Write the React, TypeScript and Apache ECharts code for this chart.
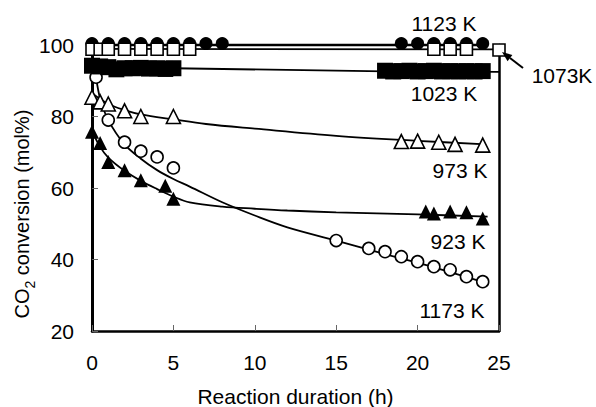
import React, { useEffect, useRef } from "react";
import * as echarts from "echarts";

// ---- data ----
const xTicks = [0, 5, 10, 15, 20, 25];
const yTicks = [20, 40, 60, 80, 100];

const h1123 = [0, 1, 2, 3, 4, 5, 6, 7, 8, 19, 20, 21, 22, 23, 24];
const v1123 = [100.4, 100.4, 100.4, 100.4, 100.4, 100.4, 100.4, 100.4, 100.4, 100.4, 100.4, 100.4, 100.4, 100.4, 100.4];
const fitH1123 = [0, 24];
const fitV1123 = [100, 100];

const h1073 = [0, 0.5, 1, 2, 3, 4, 5, 6, 21, 22, 23, 25];
const v1073 = [98.8, 98.8, 98.8, 98.8, 98.8, 98.8, 98.8, 98.8, 98.8, 98.8, 98.8, 98.6];
const fitH1073 = [0, 25];
const fitV1073 = [98.9, 98.8];

const h1023 = [0, 0.5, 1, 1.5, 2, 2.5, 3, 3.5, 4, 4.5, 5, 18, 18.5, 19, 19.5, 20, 20.5, 21, 21.5, 22, 22.5, 23, 23.5, 24];
const v1023 = [94.2, 94, 93.8, 93.2, 93.5, 93.5, 93.6, 93.4, 93.5, 93.3, 93.5, 92.8, 92.6, 92.7, 92.8, 92.6, 92.7, 92.8, 92.6, 92.7, 92.6, 92.7, 92.6, 92.7];
const fitH1023 = [0, 5, 18, 25];
const fitV1023 = [93.8, 93.5, 92.6, 92.5];

const h973 = [0, 0.5, 1, 2, 3, 5, 19, 20, 21.3, 22.3, 24];
const v973 = [85.4, 84.1, 83.5, 81.6, 80, 80, 73, 73.1, 72.8, 72.2, 72];
const fitH973 = [0, 1, 2, 3, 5, 7, 10, 15, 20, 24.2];
const fitV973 = [86.5, 83.5, 81.8, 80.6, 79.2, 77.9, 76.6, 74.6, 73.2, 72.2];

const h923 = [0, 0.5, 1, 2, 3, 4.5, 5, 20.5, 21, 22, 23, 24];
const v923 = [75.7, 72.6, 67.3, 65, 62.2, 60.6, 57, 53.4, 52.9, 53.4, 53.2, 51.5];
const fitH923 = [0, 0.5, 1, 2, 3, 4, 5, 6, 8, 10, 12, 15, 20, 24.3];
const fitV923 = [76, 71.5, 68.5, 64.8, 62, 59.7, 57.6, 56, 54.8, 54.2, 53.7, 53.2, 52.6, 52];

const h1173 = [0.25, 1, 2, 3, 4, 5, 15, 17, 18, 19, 20, 21, 22, 23, 24];
const v1173 = [91, 79, 72.8, 70.3, 68.7, 65.6, 45.3, 43.1, 42.2, 40.8, 39.4, 38, 37.1, 35.2, 33.8];
const fitH1173 = [0.25, 0.5, 1, 2, 3, 4, 5, 6, 8, 10, 12, 15, 18, 21, 24.3];
const fitV1173 = [91, 85, 79, 72.2, 68.2, 65, 62.5, 60.4, 56, 52.3, 49, 45.3, 41.5, 37.8, 33.3];

const seriesLabels = ["1123 K", "1073K", "1023 K", "973 K", "923 K", "1173 K"];

const zip = (a: number[], b: number[]) => a.map((x, i) => [x, b[i]]);

const FONT = "'Liberation Sans', Arial, Helvetica, sans-serif";

export default function App() {
  const ref = useRef<HTMLDivElement>(null);
  useEffect(() => {
    if (!ref.current) return;
    const chart = echarts.init(ref.current, null, { renderer: "svg" });

    const fit = (h: number[], v: number[], smooth: boolean, width = 1.8) => ({
      type: "line",
      data: zip(h, v),
      showSymbol: false,
      symbol: "none",
      smooth: smooth ? 0.35 : false,
      clip: false,
      silent: true,
      lineStyle: { color: "#000", width },
      z: 2,
    });
    const pts = (h: number[], v: number[], symbol: string, size: number, filled: boolean, z: number) => ({
      type: "scatter",
      data: zip(h, v),
      symbol,
      symbolSize: size,
      clip: false,
      itemStyle: {
        color: filled ? "#000" : "#fff",
        borderColor: "#000",
        borderWidth: filled ? 0 : 1.6,
        opacity: 1,
      },
      z,
    });

    const label = (text: string, x: number, y: number) => ({
      type: "text",
      x,
      y,
      style: { text, font: `21px ${FONT}`, fill: "#000", align: "center", verticalAlign: "middle" },
      z: 10,
    });

    chart.setOption({
      animation: false,
      backgroundColor: "#fff",
      grid: { left: 92, right: 97, top: 45, bottom: 76, containLabel: false, outerBoundsMode: "none" },
      xAxis: {
        type: "value",
        min: xTicks[0],
        max: xTicks[xTicks.length - 1],
        interval: 5,
        name: "Reaction duration (h)",
        nameLocation: "middle",
        nameGap: 55,
        nameTextStyle: { fontSize: 21, color: "#000", fontFamily: FONT },
        axisLine: { show: true, onZero: false, lineStyle: { color: "#000", width: 2.5 } },
        axisTick: { show: true, inside: true, length: 6, lineStyle: { color: "#666", width: 1 } },
        axisLabel: { fontSize: 21, color: "#000", fontFamily: FONT, margin: 21 },
        splitLine: { show: false },
      },
      yAxis: [
        {
          type: "value",
          min: yTicks[0],
          max: yTicks[yTicks.length - 1],
          interval: 20,
          axisLine: { show: true, onZero: false, lineStyle: { color: "#000", width: 3 } },
          axisTick: { show: true, inside: true, length: 6, lineStyle: { color: "#666", width: 1 } },
          axisLabel: { fontSize: 21, color: "#000", fontFamily: FONT, margin: 18 },
          splitLine: { show: false },
        },
        {
          type: "value",
          position: "right",
          min: yTicks[0],
          max: yTicks[yTicks.length - 1],
          interval: 20,
          axisLine: { show: true, onZero: false, lineStyle: { color: "#000", width: 2.5 } },
          axisTick: { show: false },
          axisLabel: { show: false },
          splitLine: { show: false },
        },
      ],
      series: [
        fit(fitH1123, fitV1123, false, 2.5),
        fit(fitH1073, fitV1073, false, 1.8),
        fit(fitH1023, fitV1023, false, 1.8),
        fit(fitH973, fitV973, true, 1.8),
        fit(fitH923, fitV923, true, 1.8),
        fit(fitH1173, fitV1173, true, 1.8),
        pts(h1173, v1173, "circle", 12, false, 3),
        pts(h1123, v1123, "circle", 13, true, 3),
        pts(h1073, v1073, "rect", 12, false, 4),
        pts(h1023, v1023, "rect", 16, true, 5),
        pts(h973, v973, "triangle", 14, false, 5),
        pts(h923, v923, "triangle", 14, true, 6),
      ],
      graphic: [
        label(seriesLabels[0], 444, 23),
        label(seriesLabels[1], 562, 75),
        label(seriesLabels[2], 444, 93),
        label(seriesLabels[3], 460, 170),
        label(seriesLabels[4], 458, 241),
        label(seriesLabels[5], 452, 310),
        {
          type: "line",
          shape: { x1: 523, y1: 68, x2: 510, y2: 58 },
          style: { stroke: "#000", lineWidth: 2 },
          z: 10,
        },
        {
          type: "polygon",
          shape: { points: [[502, 52], [512.4, 54.9], [507.6, 61.3]] },
          style: { fill: "#000" },
          z: 10,
        },
        {
          type: "text",
          x: 22,
          y: 214,
          rotation: Math.PI / 2,
          style: {
            text: "{a|CO}{s|2}{a| conversion (mol%)}",
            align: "center",
            verticalAlign: "middle",
            rich: {
              a: { fontSize: 20, fontFamily: FONT, fill: "#000", lineHeight: 30 },
              s: { fontSize: 14, fontFamily: FONT, fill: "#000", lineHeight: 18, verticalAlign: "bottom" },
            },
          },
          z: 10,
        },
      ],
    });
    return () => chart.dispose();
  }, []);
  return <div ref={ref} style={{ width: 596, height: 407, position: "absolute", left: 0, top: 0 }} />;
}
